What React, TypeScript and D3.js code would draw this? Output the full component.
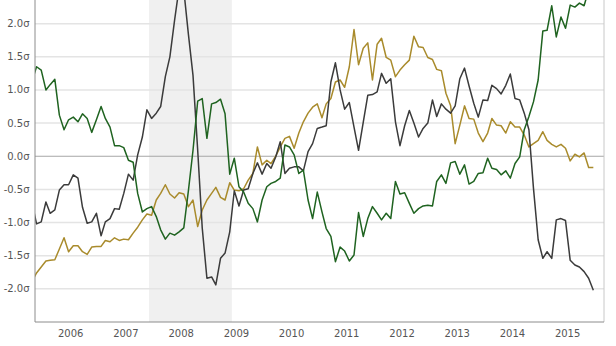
import React from "react";
import * as d3 from "d3";

// Monthly observations, Nov 2005 .. Jan 2016 (123 months)
const startMonth = new Date(2005, 10, 1);
const months: Date[] = d3.timeMonth.range(startMonth, new Date(2016, 1, 1));

const greenSeries = [
  1.13, 1.35, 1.30, 1.00, 1.08, 1.16, 0.62, 0.40, 0.55, 0.59, 0.52, 0.64, 0.57, 0.36, 0.55, 0.75,
  0.57, 0.44, 0.16, 0.16, 0.13, -0.06, -0.09, -0.56, -0.84, -0.79, -0.76, -0.91, -1.11, -1.25, -1.16, -1.19,
  -1.14, -1.08, -0.51, 0.09, 0.83, 0.87, 0.27, 0.79, 0.81, 0.86, 0.64, -0.27, -0.03, -0.46, -0.54, -0.71,
  -0.79, -0.99, -0.66, -0.46, -0.41, -0.38, -0.33, 0.17, 0.14, 0.02, -0.26, -0.21, -0.66, -0.94, -0.54, -0.84,
  -1.09, -1.21, -1.59, -1.37, -1.43, -1.58, -1.49, -0.85, -1.21, -0.94, -0.76, -0.86, -0.96, -0.86, -0.94, -0.38,
  -0.57, -0.55, -0.71, -0.86, -0.79, -0.75, -0.74, -0.75, -0.38, -0.28, -0.41, -0.10, -0.08, -0.27, -0.13, -0.42,
  -0.38, -0.26, -0.25, -0.03, -0.18, -0.20, -0.28, -0.22, -0.33, -0.11, -0.01, 0.40, 0.60, 0.82, 1.15, 1.89,
  1.90, 2.27, 1.80, 2.10, 1.93, 2.28, 2.25, 2.31, 2.27, 2.51, 2.66,
];

const blackSeries = [
  -0.70, -1.02, -0.99, -0.69, -0.86, -0.81, -0.51, -0.43, -0.43, -0.28, -0.33, -0.77, -1.01, -0.99, -0.86, -1.20,
  -0.99, -0.94, -0.79, -0.80, -0.56, -0.27, -0.36, 0.02, 0.29, 0.70, 0.57, 0.65, 0.75, 1.20, 1.50, 2.05,
  2.54, 2.51, 1.83, 1.22, 0.09, -1.08, -1.84, -1.82, -1.94, -1.54, -1.46, -1.14, -0.52, -0.75, -0.51, -0.49,
  -0.26, -0.10, -0.27, -0.11, -0.18, -0.01, 0.22, -0.26, -0.18, -0.16, -0.16, -0.22, 0.07, 0.19, 0.42, 0.44,
  0.46, 1.12, 1.41, 1.00, 0.71, 0.81, 0.44, 0.09, 0.51, 0.92, 0.93, 0.97, 1.25, 1.10, 1.17, 0.52,
  0.16, 0.46, 0.69, 0.50, 0.29, 0.42, 0.50, 0.85, 0.60, 0.79, 0.71, 0.65, 0.76, 1.17, 1.33, 1.06,
  0.80, 0.59, 0.85, 0.84, 1.07, 1.02, 0.94, 1.07, 1.24, 0.87, 0.85, 0.65, 0.40, -0.48, -1.26, -1.54,
  -1.44, -1.54, -0.96, -0.94, -0.97, -1.57, -1.64, -1.67, -1.74, -1.84, -2.02,
];

const goldSeries = [
  -1.89, -1.76, -1.67, -1.58, -1.57, -1.56, -1.40, -1.23, -1.44, -1.35, -1.35, -1.44, -1.48, -1.37, -1.36, -1.36,
  -1.27, -1.29, -1.23, -1.27, -1.25, -1.26, -1.16, -1.07, -0.96, -0.87, -0.89, -0.66, -0.56, -0.43, -0.57, -0.63,
  -0.55, -0.57, -0.76, -0.66, -1.06, -0.81, -0.66, -0.56, -0.47, -0.62, -0.66, -0.40, -0.51, -0.52, -0.49, -0.36,
  -0.26, 0.14, -0.13, -0.06, -0.11, 0.00, 0.14, 0.27, 0.30, 0.12, 0.35, 0.52, 0.65, 0.74, 0.79, 0.58,
  0.79, 0.87, 1.12, 1.15, 1.04, 1.35, 1.91, 1.38, 1.63, 1.71, 1.15, 1.69, 1.78, 1.49, 1.45, 1.20,
  1.30, 1.38, 1.45, 1.81, 1.65, 1.64, 1.49, 1.46, 1.31, 1.29, 0.95, 0.76, 0.19, 0.47, 0.76, 0.57,
  0.56, 0.35, 0.22, 0.35, 0.57, 0.47, 0.46, 0.35, 0.52, 0.44, 0.44, 0.32, 0.14, 0.19, 0.24, 0.37,
  0.24, 0.18, 0.14, 0.18, 0.12, -0.07, 0.03, -0.01, 0.05, -0.17, -0.17,
];

const yTicks = [2.0, 1.5, 1.0, 0.5, 0.0, -0.5, -1.0, -1.5, -2.0];
const yearLabels = [2006, 2007, 2008, 2009, 2010, 2011, 2012, 2013, 2014, 2015];
const recession = [new Date(2007, 11, 15), new Date(2009, 5, 15)];

const W = 616;
const H = 346;
const plotLeft = 35;
const plotRight = 604;
const plotBottom = 322;

export default function App() {
  const x = d3
    .scaleTime()
    .domain([startMonth, new Date(2016, 2, 1)])
    .range([32, 32 + 4.6 * 124]);
  const y = d3.scaleLinear().domain([-2.5, 2.5]).range([plotBottom, -9.5]);

  const mk = (vals: number[]) =>
    d3
      .line<number>()
      .x((_, i) => x(months[i]))
      .y((v) => y(v))(vals) || "";

  const series = [
    { vals: goldSeries, color: "#a98b2c" },
    { vals: blackSeries, color: "#3b3b3b" },
    { vals: greenSeries, color: "#1f6320" },
  ];

  return (
    <svg
      width={W}
      height={H}
      style={{ position: "absolute", left: 0, top: 0, background: "#fff" }}
      fontFamily="'DejaVu Sans', Verdana, sans-serif"
    >
      <defs>
        <clipPath id="plotClip">
          <rect x={plotLeft} y={-20} width={plotRight - plotLeft} height={plotBottom + 20} />
        </clipPath>
      </defs>
      <rect
        x={x(recession[0])}
        y={0}
        width={x(recession[1]) - x(recession[0])}
        height={plotBottom}
        fill="#f0f0f0"
      />
      {yTicks.map((t) => (
        <line
          key={t}
          x1={plotLeft}
          x2={plotRight}
          y1={y(t)}
          y2={y(t)}
          stroke={t === 0 ? "#a6a6a6" : "#e4e4e4"}
          strokeWidth={t === 0 ? 1 : 1.5}
        />
      ))}
      <g clipPath="url(#plotClip)">
        {series.map((s, k) => (
          <path
            key={k}
            d={mk(s.vals)}
            fill="none"
            stroke={s.color}
            strokeWidth={1.5}
            strokeLinejoin="round"
          />
        ))}
      </g>
      <line x1={plotLeft} x2={plotLeft} y1={0} y2={plotBottom} stroke="#8c8c8c" strokeWidth={1} />
      <line x1={plotRight} x2={plotRight} y1={0} y2={plotBottom} stroke="#c8c8c8" strokeWidth={1} />
      <line x1={plotLeft} x2={plotRight} y1={plotBottom} y2={plotBottom} stroke="#8c8c8c" strokeWidth={1} />
      {yTicks.map((t) => (
        <text
          key={t}
          x={29.5}
          y={y(t)}
          dy="0.35em"
          textAnchor="end"
          fontSize={10}
          fill="#555"
        >
          {t.toFixed(1) + "σ"}
        </text>
      ))}
      {yearLabels.map((yr) => (
        <text
          key={yr}
          x={x(new Date(yr, 6, 15))}
          y={337}
          textAnchor="middle"
          fontSize={10}
          fill="#555"
        >
          {yr}
        </text>
      ))}
    </svg>
  );
}
